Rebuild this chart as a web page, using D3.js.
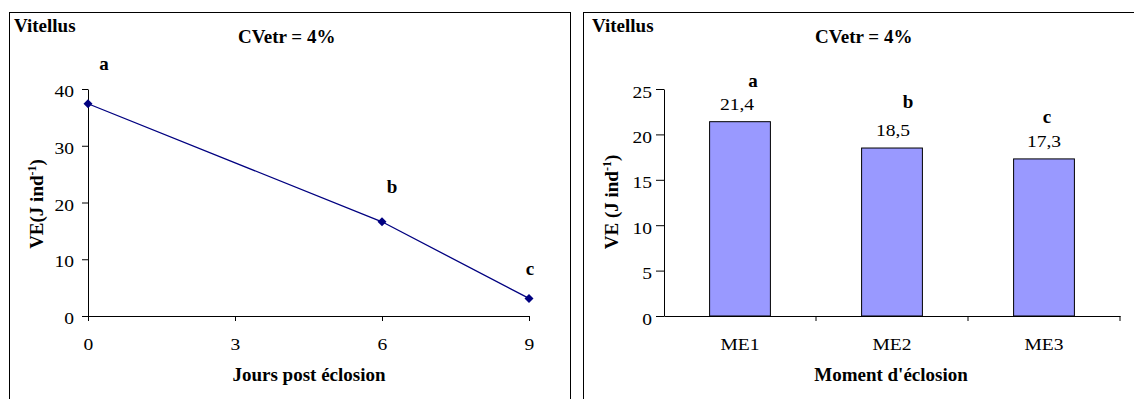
<!DOCTYPE html>
<html>
<head>
<meta charset="utf-8">
<script src="https://cdn.jsdelivr.net/npm/d3@7"></script>
<style>
  html, body { margin: 0; padding: 0; background: #fff; }
  svg { display: block; }
  svg text { font-family: "Liberation Serif", Tinos, "Times New Roman", Times, "DejaVu Serif", serif !important; fill: #000; }
</style>
</head>
<body>
<svg id="chart" width="1134" height="399"></svg>
<script>
// ---------- data ----------
const lineDays = [0, 6, 9];
const lineValues = [37.4, 16.6, 3.1];
const lineLetters = ["a", "b", "c"];
const leftXTicks = [0, 3, 6, 9];
const leftYTicks = [0, 10, 20, 30, 40];

const barCategories = ["ME1", "ME2", "ME3"];
const barValues = [21.4, 18.5, 17.3];
const barLabels = ["21,4", "18,5", "17,3"];
const barLetters = ["a", "b", "c"];
const rightYTicks = [0, 5, 10, 15, 20, 25];

const panelTitle = "Vitellus";
const cvText = "CVetr = 4%";
const leftXTitle = "Jours post éclosion";
const rightXTitle = "Moment d'éclosion";

// ---------- drawing ----------
const svg = d3.select("#chart");
const SX = 1.15;           // horizontal stretch of regular text
const tickFont = "17px";
const boldFont = "19px";

// panel frames
svg.append("rect").attr("x", 9.5).attr("y", 12.5).attr("width", 561).attr("height", 420)
  .attr("fill", "none").attr("stroke", "#000").attr("stroke-width", 1);
svg.append("rect").attr("x", 583.5).attr("y", 12.5).attr("width", 600).attr("height", 420)
  .attr("fill", "none").attr("stroke", "#000").attr("stroke-width", 1);

function boldText(x, y, str, anchor) {
  return svg.append("text").attr("x", x).attr("y", y)
    .attr("text-anchor", anchor || "start")
    .style("font-size", boldFont).style("font-weight", "bold").text(str);
}
function yTitle(x, y, main, tail) {
  const t = svg.append("text")
    .attr("transform", `translate(${x},${y}) rotate(-90)`)
    .attr("text-anchor", "middle")
    .style("font-size", boldFont).style("font-weight", "bold");
  t.append("tspan").text(main);
  t.append("tspan").attr("dy", -7).style("font-size", "12px").text("-1");
  t.append("tspan").attr("dy", 7).text(")");
}

// ===== Left panel: line chart =====
const xL = d3.scaleLinear().domain([0, 9]).range([88, 529]);
const yL = d3.scaleLinear().domain([0, 40]).range([316, 89]);

const gxL = svg.append("g").attr("transform", `translate(0,${yL(0)})`)
  .call(d3.axisBottom(xL).tickValues(leftXTicks).tickSizeInner(5).tickSizeOuter(0).tickFormat(d3.format("d")));
const gyL = svg.append("g").attr("transform", `translate(${xL(0)},0)`)
  .call(d3.axisLeft(yL).tickValues(leftYTicks).tickSizeInner(6).tickSizeOuter(0).tickFormat(d3.format("d")));

[gxL, gyL].forEach(g => {
  g.attr("font-family", null);
  g.select(".domain").attr("stroke", "#000");
  g.selectAll(".tick line").attr("stroke", "#000");
  g.selectAll("text").style("font-size", tickFont).attr("fill", "#000");
});
gxL.selectAll("text").attr("y", 34).attr("dy", 0).attr("transform", `scale(${SX},1)`);
gyL.selectAll("text").attr("x", -14 / SX).attr("dy", "0.45em").attr("transform", `scale(${SX},1)`);

const linePts = lineDays.map((d, i) => [xL(d), yL(lineValues[i])]);
svg.append("path").attr("d", d3.line()(linePts))
  .attr("fill", "none").attr("stroke", "#000080").attr("stroke-width", 1.3);
svg.selectAll(".mk").data(linePts).enter().append("path")
  .attr("d", d3.symbol(d3.symbolSquare, 40)())
  .attr("transform", p => `translate(${p[0]},${p[1]}) rotate(45)`)
  .attr("fill", "#000080");

const lineLetterOff = [[16, -34], [10, -29], [1, -23]];
linePts.forEach((p, i) => {
  boldText(p[0] + lineLetterOff[i][0], p[1] + lineLetterOff[i][1], lineLetters[i], "middle");
});

boldText(14, 32, panelTitle);
boldText(238, 43, cvText);
boldText(309, 381, leftXTitle, "middle");
yTitle(43, 204, "VE(J ind");

// ===== Right panel: bar chart =====
const xR = d3.scaleBand().domain(barCategories).range([664, 1120]).paddingInner(0).paddingOuter(0);
const yR = d3.scaleLinear().domain([0, 25]).range([316, 89]);

const gxR = svg.append("g").attr("transform", `translate(0,${yR(0)})`)
  .call(d3.axisBottom(xR).tickSizeInner(0).tickSizeOuter(0));
const gyR = svg.append("g").attr("transform", `translate(${xR.range()[0]},0)`)
  .call(d3.axisLeft(yR).tickValues(rightYTicks).tickSizeInner(8).tickSizeOuter(0).tickFormat(d3.format("d")));
[gxR, gyR].forEach(g => {
  g.attr("font-family", null);
  g.select(".domain").attr("stroke", "#000");
  g.selectAll(".tick line").attr("stroke", "#000");
  g.selectAll("text").style("font-size", tickFont).attr("fill", "#000");
});
gxR.selectAll("text").attr("y", 34).attr("dy", 0).attr("transform", `scale(${SX},1)`);
gyR.selectAll("text").attr("x", -12 / SX).attr("dy", "0.47em").attr("transform", `scale(${SX},1)`);

// category boundary ticks
const edges = barCategories.map(c => xR(c)).concat([xR.range()[1]]).slice(1);
svg.selectAll(".edge").data(edges).enter().append("line")
  .attr("x1", d => d).attr("x2", d => d)
  .attr("y1", yR(0)).attr("y2", yR(0) + 5)
  .attr("stroke", "#000");

const bw = xR.bandwidth() * 0.4;
svg.selectAll(".bar").data(barValues).enter().append("rect")
  .attr("x", (d, i) => xR(barCategories[i]) + xR.bandwidth() / 2 - bw / 2)
  .attr("y", d => yR(d))
  .attr("width", bw)
  .attr("height", d => yR(0) - yR(d))
  .attr("fill", "#9999FF").attr("stroke", "#000").attr("stroke-width", 1);

barValues.forEach((v, i) => {
  const cx = xR(barCategories[i]) + xR.bandwidth() / 2;
  svg.append("text")
    .attr("transform", `translate(${cx + [-3, 1, 0][i]},${yR(v) - 12}) scale(${SX},1)`)
    .attr("text-anchor", "middle").style("font-size", tickFont).text(barLabels[i]);
});
const barLetterOff = [[13, -35], [16, -40], [3, -36]];
barValues.forEach((v, i) => {
  const cx = xR(barCategories[i]) + xR.bandwidth() / 2;
  boldText(cx + barLetterOff[i][0], yR(v) + barLetterOff[i][1], barLetters[i], "middle");
});

boldText(592, 32, panelTitle);
boldText(815, 43, cvText);
boldText(891, 381, rightXTitle, "middle");
yTitle(618, 202, "VE (J ind");
</script>
</body>
</html>
